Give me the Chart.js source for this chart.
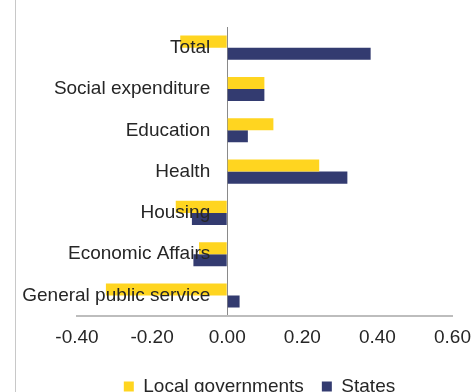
<!DOCTYPE html>
<html>
<head>
<meta charset="utf-8">
<script src="https://cdn.jsdelivr.net/npm/chart.js@4"></script>
<style>
  html, body { margin: 0; padding: 0; background: #fff; overflow: hidden; }
  #wrap { position: relative; width: 473px; height: 406px; }
  #edge { position: absolute; left: 15px; top: 0; width: 1px; height: 392px; background: #c8c8c8; }
</style>
</head>
<body>
<div id="wrap">
  <canvas id="chart"></canvas>
  <div id="edge"></div>
</div>
<script>
const categories = [
  "Total",
  "Social expenditure",
  "Education",
  "Health",
  "Housing",
  "Economic Affairs",
  "General public service",
];
const localGovernments = [-0.125, 0.099, 0.123, 0.245, -0.137, -0.075, -0.323];
const states = [0.382, 0.099, 0.055, 0.32, -0.094, -0.09, 0.033];
const xTicks = [-0.4, -0.2, 0.0, 0.2, 0.4, 0.6];

const palette = {
  yellow: "#ffd520",
  navy: "#333b70",
  text: "#262626",
  zeroLine: "#8a8a8a",
  axisLine: "#bdbdbd",
};

const font = { family: "'Liberation Sans', Arial, sans-serif", size: 19 };

// category names sit just left of the zero line, on top of the bars
const zeroAxisLabels = {
  id: "zeroAxisLabels",
  afterDatasetsDraw(chart) {
    const { ctx, scales } = chart;
    const x = scales.x.getPixelForValue(0) - 17;
    ctx.save();
    ctx.font = `${font.size}px ${font.family}`;
    ctx.fillStyle = palette.text;
    ctx.textAlign = "right";
    ctx.textBaseline = "middle";
    chart.data.labels.forEach((label, i) => {
      ctx.fillText(label, x, scales.y.getPixelForValue(i));
    });
    ctx.restore();
  },
};

new Chart(document.getElementById("chart"), {
  type: "bar",
  data: {
    labels: categories,
    datasets: [
      {
        label: "Local governments",
        data: localGovernments,
        backgroundColor: palette.yellow,
        categoryPercentage: 0.583,
        barPercentage: 1.0,
      },
      {
        label: "States",
        data: states,
        backgroundColor: palette.navy,
        categoryPercentage: 0.583,
        barPercentage: 1.0,
      },
    ],
  },
  options: {
    indexAxis: "y",
    responsive: true,
    maintainAspectRatio: false,
    animation: false,
    layout: { padding: { left: 66, top: 27, right: 20, bottom: 0 } },
    plugins: {
      legend: {
        position: "bottom",
        labels: {
          font: font,
          color: palette.text,
          boxWidth: 10,
          boxHeight: 10,
          padding: 18,
        },
      },
      tooltip: { enabled: false },
    },
    scales: {
      x: {
        min: xTicks[0],
        max: xTicks[xTicks.length - 1],
        afterBuildTicks: (scale) => {
          scale.ticks = xTicks.map((v) => ({ value: v }));
        },
        afterFit: (scale) => {
          scale.height += 8;
        },
        ticks: {
          font: font,
          color: palette.text,
          padding: 2,
          maxRotation: 0,
          callback: (v) => Number(v).toFixed(2),
        },
        grid: {
          drawTicks: true,
          tickLength: 8,
          tickColor: "transparent",
          color: (ctx) => (ctx.tick && ctx.tick.value === 0 ? palette.zeroLine : "transparent"),
        },
        border: { color: palette.axisLine, width: 2 },
      },
      y: {
        afterFit: (scale) => {
          scale.width = 11;
        },
        ticks: { display: false },
        grid: { display: false, drawTicks: false },
        border: { display: false },
      },
    },
  },
  plugins: [zeroAxisLabels],
});
</script>
</body>
</html>
